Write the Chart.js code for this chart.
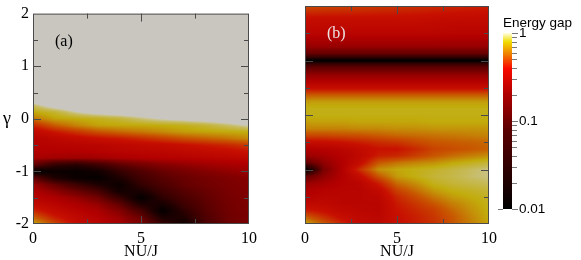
<!DOCTYPE html>
<html>
<head>
<meta charset="utf-8">
<script src="https://cdn.jsdelivr.net/npm/chart.js@4.4.0/dist/chart.umd.min.js"></script>
<style>
  body { margin: 0; background: #fff; }
  #wrap { position: relative; width: 581px; height: 260px; overflow: hidden; }
  canvas { position: absolute; top: 0; }
</style>
</head>
<body>
<div id="wrap">
  <canvas id="panelA" width="262" height="260" style="left:0"></canvas>
  <canvas id="panelB" width="240" height="260" style="left:262px"></canvas>
  <canvas id="colorBar" width="86" height="260" style="left:495px"></canvas>
</div>
<script>
// Grid of NU/J values (columns)
const nuOverJ = [0, 1, 2, 3, 4, 5, 6, 7, 8, 9, 10];

// gamma rows, top to bottom
const gammaRowsA = [2, 1, 0.5, 0.375, 0.25, 0.125, 0, -0.125, -0.25, -0.375, -0.5, -0.625,
  -0.75, -0.875, -1, -1.125, -1.25, -1.375, -1.5, -1.625, -1.75, -1.875, -2];

// log10(energy gap), panel (a); values above 0 are off the scale (gap > 1)
const logGapA = [
  [0.3, 0.3, 0.3, 0.3, 0.3, 0.3, 0.3, 0.3, 0.3, 0.3, 0.3],
  [0.3, 0.3, 0.3, 0.3, 0.3, 0.3, 0.3, 0.3, 0.3, 0.3, 0.3],
  [0.3, 0.3, 0.3, 0.3, 0.3, 0.3, 0.3, 0.3, 0.3, 0.3, 0.3],
  [0.1, 0.19, 0.25, 0.3, 0.3, 0.3, 0.3, 0.3, 0.3, 0.3, 0.3],
  [-0.06, 0.06, 0.12, 0.17, 0.2, 0.23, 0.26, 0.29, 0.3, 0.3, 0.3],
  [-0.155, -0.11, -0.01, 0.05, 0.08, 0.1, 0.14, 0.17, 0.2, 0.23, 0.26],
  [-0.25, -0.17, -0.15, -0.13, -0.1, -0.04, 0.01, 0.04, 0.07, 0.1, 0.13],
  [-0.4, -0.29, -0.22, -0.17, -0.16, -0.155, -0.145, -0.13, -0.1, -0.05, 0.005],
  [-0.52, -0.44, -0.37, -0.31, -0.27, -0.24, -0.21, -0.18, -0.165, -0.155, -0.145],
  [-0.57, -0.54, -0.5, -0.46, -0.43, -0.39, -0.35, -0.31, -0.28, -0.25, -0.21],
  [-0.58, -0.57, -0.56, -0.55, -0.53, -0.51, -0.49, -0.46, -0.43, -0.4, -0.36],
  [-0.6, -0.6, -0.6, -0.58, -0.56, -0.55, -0.54, -0.52, -0.5, -0.48, -0.45],
  [-0.65, -0.68, -0.7, -0.68, -0.64, -0.61, -0.59, -0.58, -0.56, -0.55, -0.53],
  [-1.0, -1.4, -1.5, -1.3, -1.05, -0.9, -0.8, -0.74, -0.69, -0.65, -0.62],
  [-2.0, -1.85, -1.9, -1.75, -1.4, -1.15, -0.98, -0.88, -0.8, -0.75, -0.7],
  [-1.0, -1.6, -1.85, -1.95, -1.6, -1.28, -1.08, -0.98, -0.9, -0.84, -0.78],
  [-0.68, -1.0, -1.3, -1.6, -1.85, -1.4, -1.18, -1.0, -0.92, -0.86, -0.8],
  [-0.6, -0.75, -0.95, -1.2, -1.75, -1.65, -1.3, -1.1, -0.98, -0.88, -0.82],
  [-0.56, -0.62, -0.72, -0.9, -1.35, -1.95, -1.45, -1.2, -1.02, -0.9, -0.83],
  [-0.5, -0.56, -0.62, -0.72, -1.0, -1.6, -1.7, -1.3, -1.06, -0.92, -0.84],
  [-0.4, -0.5, -0.56, -0.63, -0.8, -1.2, -1.95, -1.45, -1.1, -0.93, -0.85],
  [-0.28, -0.42, -0.52, -0.58, -0.7, -0.95, -1.65, -1.6, -1.15, -0.95, -0.86],
  [-0.15, -0.32, -0.48, -0.55, -0.65, -0.82, -1.35, -1.8, -1.2, -0.97, -0.86]
];

const gammaRowsB = [2, 1.75, 1.5, 1.25, 1.125, 1.0625, 1, 0.9375, 0.875, 0.75, 0.625, 0.5,
  0.375, 0.25, 0.125, 0, -0.125, -0.25, -0.375, -0.5, -0.625, -0.75, -0.875, -1, -1.125,
  -1.25, -1.375, -1.5, -1.625, -1.75, -1.875, -2];

// log10(energy gap), panel (b)
const logGapB = [
  [-0.32, -0.33, -0.34, -0.35, -0.36, -0.37, -0.38, -0.39, -0.4, -0.41, -0.42],
  [-0.48, -0.48, -0.48, -0.48, -0.48, -0.48, -0.48, -0.49, -0.5, -0.5, -0.5],
  [-0.55, -0.55, -0.55, -0.55, -0.55, -0.55, -0.55, -0.55, -0.56, -0.56, -0.56],
  [-0.72, -0.72, -0.72, -0.72, -0.72, -0.72, -0.72, -0.72, -0.72, -0.72, -0.72],
  [-1.0, -1.0, -1.0, -1.0, -1.0, -1.0, -1.0, -1.0, -1.0, -1.0, -1.0],
  [-1.4, -1.4, -1.4, -1.4, -1.4, -1.4, -1.4, -1.4, -1.4, -1.4, -1.4],
  [-2.0, -2.0, -2.0, -2.0, -2.0, -2.0, -2.0, -2.0, -2.0, -2.0, -2.0],
  [-1.35, -1.35, -1.35, -1.35, -1.35, -1.35, -1.35, -1.35, -1.35, -1.35, -1.35],
  [-1.05, -1.05, -1.05, -1.05, -1.05, -1.05, -1.05, -1.05, -1.05, -1.05, -1.05],
  [-0.75, -0.75, -0.75, -0.75, -0.75, -0.75, -0.75, -0.75, -0.75, -0.75, -0.75],
  [-0.6, -0.6, -0.6, -0.6, -0.6, -0.6, -0.6, -0.6, -0.6, -0.6, -0.6],
  [-0.48, -0.48, -0.48, -0.48, -0.48, -0.48, -0.48, -0.48, -0.48, -0.48, -0.48],
  [-0.3, -0.3, -0.3, -0.3, -0.3, -0.3, -0.3, -0.3, -0.3, -0.3, -0.3],
  [-0.18, -0.18, -0.18, -0.18, -0.18, -0.18, -0.18, -0.18, -0.18, -0.18, -0.18],
  [-0.14, -0.14, -0.14, -0.14, -0.14, -0.14, -0.14, -0.14, -0.14, -0.14, -0.14],
  [-0.14, -0.14, -0.14, -0.14, -0.14, -0.14, -0.14, -0.14, -0.14, -0.14, -0.14],
  [-0.17, -0.17, -0.17, -0.16, -0.16, -0.16, -0.16, -0.15, -0.15, -0.15, -0.15],
  [-0.22, -0.22, -0.22, -0.21, -0.21, -0.2, -0.2, -0.19, -0.19, -0.19, -0.19],
  [-0.33, -0.33, -0.32, -0.31, -0.29, -0.27, -0.26, -0.25, -0.24, -0.23, -0.22],
  [-0.48, -0.47, -0.45, -0.42, -0.39, -0.37, -0.33, -0.3, -0.29, -0.28, -0.27],
  [-0.6, -0.58, -0.55, -0.5, -0.45, -0.45, -0.4, -0.34, -0.32, -0.3, -0.28],
  [-0.7, -0.65, -0.58, -0.52, -0.42, -0.4, -0.35, -0.3, -0.26, -0.23, -0.2],
  [-1.0, -0.75, -0.6, -0.48, -0.3, -0.25, -0.22, -0.2, -0.16, -0.13, -0.1],
  [-2.0, -0.85, -0.6, -0.38, -0.2, -0.16, -0.14, -0.12, -0.09, -0.06, -0.03],
  [-1.0, -0.75, -0.6, -0.48, -0.3, -0.18, -0.14, -0.1, -0.08, -0.05, -0.03],
  [-0.72, -0.65, -0.58, -0.55, -0.42, -0.26, -0.2, -0.13, -0.1, -0.08, -0.06],
  [-0.62, -0.58, -0.56, -0.56, -0.5, -0.34, -0.26, -0.18, -0.14, -0.12, -0.1],
  [-0.58, -0.55, -0.55, -0.55, -0.54, -0.4, -0.32, -0.24, -0.18, -0.15, -0.12],
  [-0.52, -0.52, -0.55, -0.55, -0.55, -0.43, -0.37, -0.3, -0.23, -0.18, -0.13],
  [-0.42, -0.47, -0.52, -0.54, -0.55, -0.45, -0.4, -0.35, -0.27, -0.2, -0.14],
  [-0.28, -0.38, -0.47, -0.52, -0.54, -0.46, -0.42, -0.37, -0.3, -0.22, -0.15],
  [-0.15, -0.28, -0.4, -0.5, -0.52, -0.46, -0.42, -0.38, -0.3, -0.23, -0.16]
];

// axis ticks
const xTicks = [0, 5, 10];
const xMinorTicks = [2.5, 7.5];
const yTicks = [-2, -1, 0, 1, 2];
const yMinorTicks = [-1.5, -0.5, 0.5, 1.5];
const gapTicks = [0.01, 0.1, 1];
const gapMinorTicks = [0.02, 0.03, 0.04, 0.05, 0.06, 0.07, 0.08, 0.09,
  0.2, 0.3, 0.4, 0.5, 0.6, 0.7, 0.8, 0.9];

// colour stops on log10(gap)
const panelStops = [
  [-2.0, [0, 0, 0]],
  [-1.6, [30, 0, 0]],
  [-1.1, [85, 0, 0]],
  [-0.8, [132, 0, 0]],
  [-0.6, [178, 0, 0]],
  [-0.45, [200, 16, 0]],
  [-0.3, [200, 85, 0]],
  [-0.15, [194, 172, 12]],
  [-0.06, [198, 186, 90]],
  [0, [204, 200, 172]]
];
const barStops = [
  [-2.0, [0, 0, 0]],
  [-1.1, [90, 0, 0]],
  [-0.7, [175, 0, 0]],
  [-0.4, [250, 10, 0]],
  [-0.25, [240, 120, 0]],
  [-0.1, [240, 220, 0]],
  [0, [255, 255, 225]]
];
const offScale = [200, 198, 191];

const serif = '"Liberation Serif", "Times New Roman", serif';
const sans = '"Liberation Sans", Arial, sans-serif';
Chart.defaults.font.family = serif;

function colorFor(e, stops) {
  if (e > 0) return offScale;
  if (e <= stops[0][0]) return stops[0][1];
  for (let k = 1; k < stops.length; k++) {
    if (e <= stops[k][0]) {
      const [e0, c0] = stops[k - 1];
      const [e1, c1] = stops[k];
      const t = (e - e0) / (e1 - e0);
      return [0, 1, 2].map(n => c0[n] + (c1[n] - c0[n]) * t);
    }
  }
  return stops[stops.length - 1][1];
}

function sampleGrid(grid, rows, cols, x, g) {
  let i = 0;
  while (i < cols.length - 2 && x > cols[i + 1]) i++;
  let j = 0;
  while (j < rows.length - 2 && g < rows[j + 1]) j++;
  const tx = Math.min(1, Math.max(0, (x - cols[i]) / (cols[i + 1] - cols[i])));
  const ty = Math.min(1, Math.max(0, (g - rows[j]) / (rows[j + 1] - rows[j])));
  const a = grid[j][i], b = grid[j][i + 1], c = grid[j + 1][i], d = grid[j + 1][i + 1];
  return (a * (1 - tx) + b * tx) * (1 - ty) + (c * (1 - tx) + d * tx) * ty;
}

// heat map through the chart's own scales
const heatmapPlugin = {
  id: 'heatmap',
  beforeDatasetsDraw(chart, args, opts) {
    const { ctx, chartArea, scales } = chart;
    const left = Math.round(chartArea.left), top = Math.round(chartArea.top);
    const w = Math.round(chartArea.right) - left, h = Math.round(chartArea.bottom) - top;
    const img = ctx.createImageData(w, h);
    for (let py = 0; py < h; py++) {
      const g = scales.y.getValueForPixel(top + py + 0.5);
      for (let px = 0; px < w; px++) {
        const x = scales.x.getValueForPixel(left + px + 0.5);
        const c = colorFor(sampleGrid(opts.grid, opts.rows, nuOverJ, x, g), panelStops);
        const o = (py * w + px) * 4;
        img.data[o] = c[0]; img.data[o + 1] = c[1]; img.data[o + 2] = c[2]; img.data[o + 3] = 255;
      }
    }
    ctx.putImageData(img, left, top);
  }
};

// frame with inward ticks on all four sides, plus panel tag
const framePlugin = {
  id: 'frame',
  afterDraw(chart, args, opts) {
    const { ctx, chartArea: a, scales } = chart;
    ctx.save();
    ctx.strokeStyle = '#4a4a4a';
    ctx.lineWidth = 1;
    ctx.strokeRect(a.left + 0.5, a.top + 0.5, a.right - a.left - 1, a.bottom - a.top - 1);
    const tick = (vals, len, horiz) => {
      vals.forEach(v => {
        ctx.beginPath();
        if (horiz) {
          const p = Math.round(scales.x.getPixelForValue(v)) + 0.5;
          ctx.moveTo(p, a.bottom); ctx.lineTo(p, a.bottom - len);
          ctx.moveTo(p, a.top); ctx.lineTo(p, a.top + len);
        } else {
          const p = Math.round(scales.y.getPixelForValue(v)) + 0.5;
          ctx.moveTo(a.left, p); ctx.lineTo(a.left + len, p);
          ctx.moveTo(a.right, p); ctx.lineTo(a.right - len, p);
        }
        ctx.stroke();
      });
    };
    tick(xTicks.slice(1, -1), 8, true);
    tick(xMinorTicks, 5, true);
    tick(yTicks.slice(1, -1), 8, false);
    tick(yMinorTicks, 5, false);

    ctx.font = '16px ' + serif;
    ctx.fillStyle = opts.tagColor;
    ctx.textBaseline = 'alphabetic';
    ctx.textAlign = 'left';
    ctx.fillText(opts.tag, a.left + 22, a.top + 32);
    if (opts.gammaLabel) {
      ctx.fillStyle = '#000';
      ctx.font = '18px ' + serif;
      ctx.fillText('γ', 3, scales.y.getPixelForValue(0) + 5);
    }
    ctx.restore();
  }
};

function panelChart(id, grid, rows, tag, tagColor, withY) {
  return new Chart(document.getElementById(id), {
    type: 'scatter',
    data: { datasets: [] },
    plugins: [heatmapPlugin, framePlugin],
    options: {
      responsive: false,
      animation: false,
      layout: { padding: withY ? { top: 6, right: 11, left: 0, bottom: 0 } : { top: 6, right: 12, left: 10, bottom: 0 } },
      plugins: {
        legend: { display: false },
        tooltip: { enabled: false },
        heatmap: { grid: grid, rows: rows },
        frame: { tag: tag, tagColor: tagColor, gammaLabel: withY }
      },
      scales: {
        x: {
          type: 'linear', min: 0, max: 10,
          afterBuildTicks: s => { s.ticks = xTicks.map(v => ({ value: v })); },
          afterFit: s => { s.height = 36; },
          grid: { display: false, drawTicks: false },
          border: { display: false },
          ticks: { color: '#000', font: { family: serif, size: 16 }, padding: 5, maxRotation: 0,
            callback: v => String(v) },
          title: { display: true, text: 'NU/J', color: '#000', font: { family: serif, size: 16 },
            padding: { top: 0, bottom: -1 } }
        },
        y: {
          type: 'linear', min: -2, max: 2, display: withY,
          afterBuildTicks: s => { s.ticks = yTicks.map(v => ({ value: v })); },
          afterFit: s => { s.width = 33; },
          grid: { display: false, drawTicks: false },
          border: { display: false },
          ticks: { color: '#000', font: { family: serif, size: 16 }, padding: 4,
            callback: v => String(v) }
        }
      }
    }
  });
}

panelChart('panelA', logGapA, gammaRowsA, '(a)', '#000', true);
panelChart('panelB', logGapB, gammaRowsB, '(b)', '#eee6e6', false);

// colour bar on a log axis
const colorBarPlugin = {
  id: 'colorBarFill',
  beforeDatasetsDraw(chart) {
    const { ctx, chartArea: a, scales } = chart;
    for (let py = Math.round(a.top); py < Math.round(a.bottom); py++) {
      const v = scales.y.getValueForPixel(py + 0.5);
      const c = colorFor(Math.log10(v), barStops);
      ctx.fillStyle = `rgb(${c.map(Math.round).join(',')})`;
      ctx.fillRect(a.left, py, a.right - a.left, 1);
    }
  },
  afterDraw(chart) {
    const { ctx, chartArea: a, scales } = chart;
    ctx.save();
    ctx.strokeStyle = '#777';
    ctx.lineWidth = 1;
    const mark = (v, len) => {
      const p = Math.round(scales.y.getPixelForValue(v)) + 0.5;
      ctx.beginPath();
      ctx.moveTo(a.right, p); ctx.lineTo(a.right + len, p);
      ctx.stroke();
    };
    gapTicks.forEach(v => mark(v, 6));
    gapMinorTicks.forEach(v => mark(v, 5));
    const pb = Math.round(scales.y.getPixelForValue(gapTicks[0])) + 0.5;
    ctx.beginPath();
    ctx.moveTo(a.left - 5, pb); ctx.lineTo(a.left, pb);
    ctx.stroke();
    ctx.fillStyle = '#000';
    ctx.font = '13.5px ' + sans;
    ctx.textAlign = 'left';
    ctx.fillText('Energy gap', a.left, 27);
    ctx.restore();
  }
};

new Chart(document.getElementById('colorBar'), {
  type: 'scatter',
  data: { datasets: [] },
  plugins: [colorBarPlugin],
  options: {
    responsive: false,
    animation: false,
    layout: { padding: { top: 33, bottom: 51, left: 8, right: 0 } },
    plugins: { legend: { display: false }, tooltip: { enabled: false } },
    scales: {
      x: { display: false, min: 0, max: 1 },
      y: {
        type: 'logarithmic', position: 'right', min: 0.01, max: 1,
        afterBuildTicks: s => { s.ticks = gapTicks.map(v => ({ value: v })); },
        afterFit: s => { s.width = 69; },
        grid: { display: false, drawTicks: false },
        border: { display: false },
        ticks: { color: '#000', font: { family: sans, size: 13.5 }, padding: 7,
          callback: v => String(v) }
      }
    }
  }
});
</script>
</body>
</html>
